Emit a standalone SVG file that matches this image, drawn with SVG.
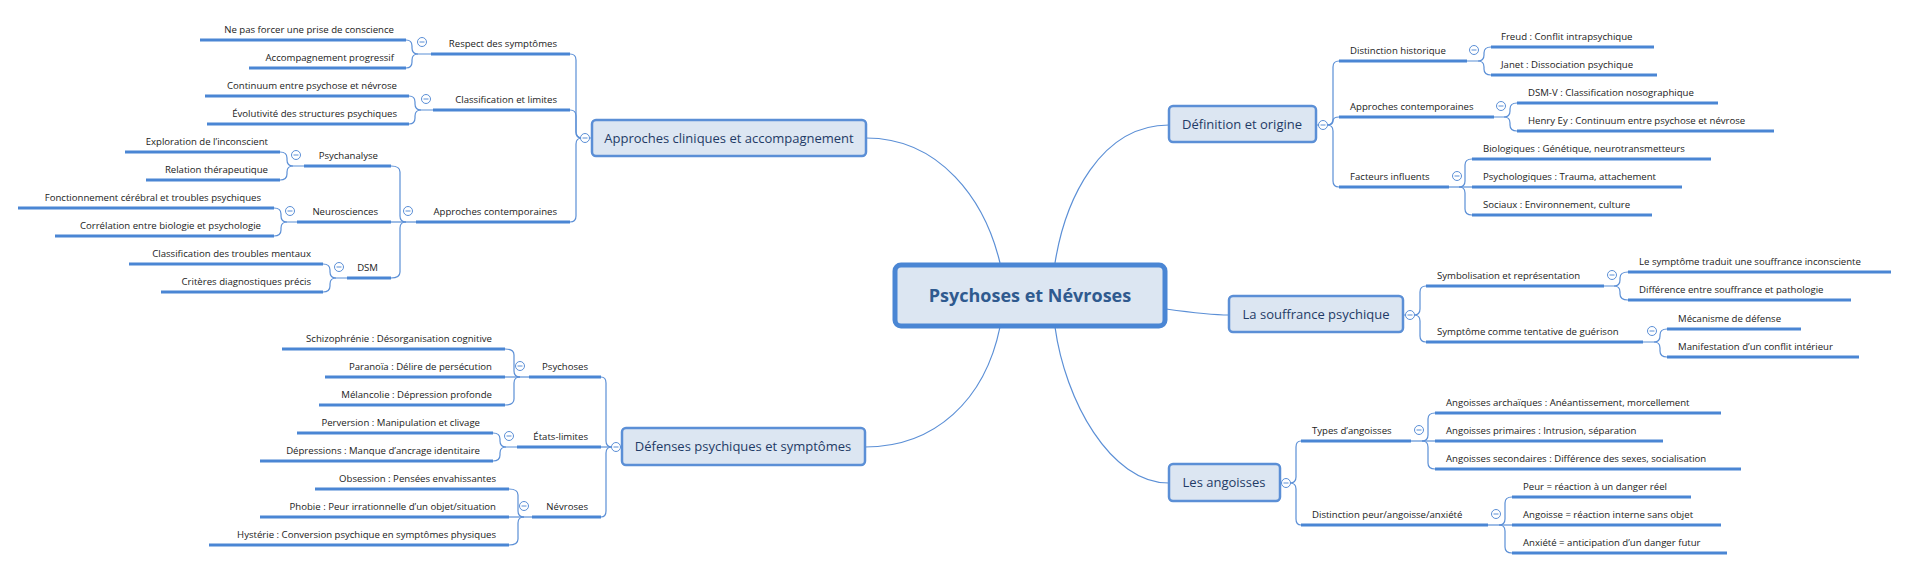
<svg xmlns="http://www.w3.org/2000/svg" width="1908" height="570" viewBox="0 0 1908 570">
<style>
text{font-family:"Open Sans","DejaVu Sans",sans-serif;fill:#222;font-size:9.6px}
.e{text-anchor:end}.m{text-anchor:middle}
.c{fill:none;stroke:#5b8fd6;stroke-width:1.2}
.u{stroke:#4a86d4;stroke-width:3}
.box{fill:#dce6f2;stroke:#5b8fd6;stroke-width:2.5}
.bt{font-size:13px;fill:#1f3b66}
.k{fill:#fff;stroke:#5b8fd6;stroke-width:1}
.km{stroke:#5b8fd6;stroke-width:1}
</style>
<defs>
<g id="col"><circle class="k" r="4.5"/><line class="km" x1="-2.5" x2="2.5"/></g>
</defs>
<g id="connectors">
<path class="c" d="M866 138 C940 138 985 200 1000 263"/>
<path class="c" d="M1169 125 C1100 125 1065 200 1055 263"/>
<path class="c" d="M1166 309 C1195 313 1210 315 1229 315"/>
<path class="c" d="M1169 483 C1110 483 1065 400 1055 327"/>
<path class="c" d="M865 447 C935 447 985 400 1000 327"/>
<path class="c" d="M592 138 H582 Q576 138 576 132 V60 Q576 54 570 54"/>
<path class="c" d="M582 138 Q576 138 576 132 V116 Q576 110 570 110"/>
<path class="c" d="M582 138 Q576 138 576 144 V216 Q576 222 570 222"/>
<path class="c" d="M431 54 H418 Q412 54 412 48 V46 Q412 40 406 40"/>
<path class="c" d="M418 54 Q412 54 412 60 V62 Q412 68 406 68"/>
<path class="c" d="M433 110 H421 Q415 110 415 104 V102 Q415 96 409 96"/>
<path class="c" d="M421 110 Q415 110 415 116 V118 Q415 124 409 124"/>
<path class="c" d="M416 222 H391"/>
<path class="c" d="M406 222 Q400 222 400 216 V172 Q400 166 391 166"/>
<path class="c" d="M406 222 Q400 222 400 228 V272 Q400 278 391 278"/>
<path class="c" d="M304 166 H293 Q287 166 287 160 V158 Q287 152 280 152"/>
<path class="c" d="M293 166 Q287 166 287 172 V174 Q287 180 280 180"/>
<path class="c" d="M297 222 H287 Q281 222 281 216 V214 Q281 208 274 208"/>
<path class="c" d="M287 222 Q281 222 281 228 V230 Q281 236 274 236"/>
<path class="c" d="M347 278 H336 Q330 278 330 272 V270 Q330 264 323 264"/>
<path class="c" d="M336 278 Q330 278 330 284 V286 Q330 292 323 292"/>
<path class="c" d="M622 447 H601"/>
<path class="c" d="M612 447 Q606 447 606 441 V383 Q606 377 601 377"/>
<path class="c" d="M612 447 Q606 447 606 453 V511 Q606 517 601 517"/>
<path class="c" d="M529 377 H505"/>
<path class="c" d="M520 377 Q514 377 514 371 V355 Q514 349 505 349"/>
<path class="c" d="M520 377 Q514 377 514 383 V399 Q514 405 505 405"/>
<path class="c" d="M517 447 H506 Q500 447 500 441 V439 Q500 433 493 433"/>
<path class="c" d="M506 447 Q500 447 500 453 V455 Q500 461 493 461"/>
<path class="c" d="M532 517 H509"/>
<path class="c" d="M524 517 Q518 517 518 511 V495 Q518 489 509 489"/>
<path class="c" d="M524 517 Q518 517 518 523 V539 Q518 545 509 545"/>
<path class="c" d="M1316 125 H1327 Q1333 125 1333 119 V67 Q1333 61 1339 61"/>
<path class="c" d="M1327 125 Q1333 125 1333 121 Q1333 117 1339 117"/>
<path class="c" d="M1327 125 Q1333 125 1333 131 V181 Q1333 187 1339 187"/>
<path class="c" d="M1467 61 H1478 Q1484 61 1484 55 V53 Q1484 47 1491 47"/>
<path class="c" d="M1478 61 Q1484 61 1484 67 V69 Q1484 75 1491 75"/>
<path class="c" d="M1494 117 H1504 Q1510 117 1510 111 V109 Q1510 103 1517 103"/>
<path class="c" d="M1504 117 Q1510 117 1510 123 V125 Q1510 131 1517 131"/>
<path class="c" d="M1449 187 H1472"/>
<path class="c" d="M1459 187 Q1465 187 1465 181 V165 Q1465 159 1472 159"/>
<path class="c" d="M1459 187 Q1465 187 1465 193 V209 Q1465 215 1472 215"/>
<path class="c" d="M1403 315 H1414 Q1420 315 1420 309 V292 Q1420 286 1426 286"/>
<path class="c" d="M1414 315 Q1420 315 1420 321 V336 Q1420 342 1426 342"/>
<path class="c" d="M1604 286 H1614 Q1620 286 1620 280 V278 Q1620 272 1628 272"/>
<path class="c" d="M1614 286 Q1620 286 1620 292 V294 Q1620 300 1628 300"/>
<path class="c" d="M1643 342 H1654 Q1660 342 1660 336 V335 Q1660 329 1667 329"/>
<path class="c" d="M1654 342 Q1660 342 1660 348 V351 Q1660 357 1667 357"/>
<path class="c" d="M1280 483 H1290 Q1296 483 1296 477 V447 Q1296 441 1301 441"/>
<path class="c" d="M1290 483 Q1296 483 1296 489 V519 Q1296 525 1301 525"/>
<path class="c" d="M1411 441 H1435"/>
<path class="c" d="M1422 441 Q1428 441 1428 435 V419 Q1428 413 1435 413"/>
<path class="c" d="M1422 441 Q1428 441 1428 447 V463 Q1428 469 1435 469"/>
<path class="c" d="M1488 525 H1512"/>
<path class="c" d="M1499 525 Q1505 525 1505 519 V503 Q1505 497 1512 497"/>
<path class="c" d="M1499 525 Q1505 525 1505 531 V547 Q1505 553 1512 553"/>
</g>
<g id="central">
<rect x="895" y="265" width="270" height="61" rx="6" fill="#dce6f2" stroke="#4a86d4" stroke-width="5"/>
<text x="1030" y="302" class="m" style="font-size:18px;font-weight:bold;fill:#2f5a8f">Psychoses et Névroses</text>
</g>
<g id="n-approches">
<rect class="box" x="592" y="120" width="274" height="36" rx="4"/>
<text class="bt m" x="729" y="143">Approches cliniques et accompagnement</text>
<use href="#col" x="585" y="138"/>
</g>
<g id="n-respect"><line class="u" x1="431" y1="54" x2="570" y2="54"/><text class="e" x="557" y="47">Respect des symptômes</text><use href="#col" x="422" y="42"/></g>
<g id="l1"><line class="u" x1="200" y1="40" x2="406" y2="40"/><text class="e" x="394" y="33">Ne pas forcer une prise de conscience</text></g>
<g id="l2"><line class="u" x1="249" y1="68" x2="406" y2="68"/><text class="e" x="394" y="61">Accompagnement progressif</text></g>
<g id="n-classif"><line class="u" x1="433" y1="110" x2="570" y2="110"/><text class="e" x="557" y="103">Classification et limites</text><use href="#col" x="426" y="99"/></g>
<g id="l3"><line class="u" x1="205" y1="96" x2="409" y2="96"/><text class="e" x="397" y="89">Continuum entre psychose et névrose</text></g>
<g id="l4"><line class="u" x1="207" y1="124" x2="409" y2="124"/><text class="e" x="397" y="117">Évolutivité des structures psychiques</text></g>
<g id="n-appcont"><line class="u" x1="416" y1="222" x2="570" y2="222"/><text class="e" x="557" y="215">Approches contemporaines</text><use href="#col" x="408" y="211"/></g>
<g id="n-psychanalyse"><line class="u" x1="304" y1="166" x2="391" y2="166"/><text class="e" x="378" y="159">Psychanalyse</text><use href="#col" x="296" y="155"/></g>
<g id="l5"><line class="u" x1="125" y1="152" x2="280" y2="152"/><text class="e" x="268" y="145">Exploration de l’inconscient</text></g>
<g id="l6"><line class="u" x1="146" y1="180" x2="280" y2="180"/><text class="e" x="268" y="173">Relation thérapeutique</text></g>
<g id="n-neuro"><line class="u" x1="297" y1="222" x2="391" y2="222"/><text class="e" x="378" y="215">Neurosciences</text><use href="#col" x="290" y="211"/></g>
<g id="l7"><line class="u" x1="18" y1="208" x2="274" y2="208"/><text class="e" x="261" y="201">Fonctionnement cérébral et troubles psychiques</text></g>
<g id="l8"><line class="u" x1="55" y1="236" x2="274" y2="236"/><text class="e" x="261" y="229">Corrélation entre biologie et psychologie</text></g>
<g id="n-dsm"><line class="u" x1="347" y1="278" x2="391" y2="278"/><text class="e" x="378" y="271">DSM</text><use href="#col" x="339" y="267"/></g>
<g id="l9"><line class="u" x1="129" y1="264" x2="323" y2="264"/><text class="e" x="311" y="257">Classification des troubles mentaux</text></g>
<g id="l10"><line class="u" x1="161" y1="292" x2="323" y2="292"/><text class="e" x="311" y="285">Critères diagnostiques précis</text></g>
<g id="n-defenses">
<rect class="box" x="622" y="428" width="243" height="37" rx="4"/>
<text class="bt m" x="743" y="451">Défenses psychiques et symptômes</text>
<use href="#col" x="616" y="447"/>
</g>
<g id="n-psychoses"><line class="u" x1="529" y1="377" x2="601" y2="377"/><text class="e" x="588" y="370">Psychoses</text><use href="#col" x="520" y="366"/></g>
<g id="l11"><line class="u" x1="282" y1="349" x2="505" y2="349"/><text class="e" x="492" y="342">Schizophrénie : Désorganisation cognitive</text></g>
<g id="l12"><line class="u" x1="325" y1="377" x2="505" y2="377"/><text class="e" x="492" y="370">Paranoïa : Délire de persécution</text></g>
<g id="l13"><line class="u" x1="319" y1="405" x2="505" y2="405"/><text class="e" x="492" y="398">Mélancolie : Dépression profonde</text></g>
<g id="n-etats"><line class="u" x1="517" y1="447" x2="601" y2="447"/><text class="e" x="588" y="440">États-limites</text><use href="#col" x="509" y="436"/></g>
<g id="l14"><line class="u" x1="297" y1="433" x2="493" y2="433"/><text class="e" x="480" y="426">Perversion : Manipulation et clivage</text></g>
<g id="l15"><line class="u" x1="260" y1="461" x2="493" y2="461"/><text class="e" x="480" y="454">Dépressions : Manque d’ancrage identitaire</text></g>
<g id="n-nevroses"><line class="u" x1="532" y1="517" x2="601" y2="517"/><text class="e" x="588" y="510">Névroses</text><use href="#col" x="524" y="506"/></g>
<g id="l16"><line class="u" x1="315" y1="489" x2="509" y2="489"/><text class="e" x="496" y="482">Obsession : Pensées envahissantes</text></g>
<g id="l17"><line class="u" x1="260" y1="517" x2="509" y2="517"/><text class="e" x="496" y="510">Phobie : Peur irrationnelle d’un objet/situation</text></g>
<g id="l18"><line class="u" x1="209" y1="545" x2="509" y2="545"/><text class="e" x="496" y="538">Hystérie : Conversion psychique en symptômes physiques</text></g>
<g id="n-definition">
<rect class="box" x="1169" y="106" width="147" height="36" rx="4"/>
<text class="bt m" x="1242" y="129">Définition et origine</text>
<use href="#col" x="1323" y="125"/>
</g>
<g id="n-disthist"><line class="u" x1="1339" y1="61" x2="1467" y2="61"/><text x="1350" y="54">Distinction historique</text><use href="#col" x="1474" y="50"/></g>
<g id="r1"><line class="u" x1="1491" y1="47" x2="1654" y2="47"/><text x="1501" y="40">Freud : Conflit intrapsychique</text></g>
<g id="r2"><line class="u" x1="1491" y1="75" x2="1657" y2="75"/><text x="1501" y="68">Janet : Dissociation psychique</text></g>
<g id="n-appcont2"><line class="u" x1="1339" y1="117" x2="1494" y2="117"/><text x="1350" y="110">Approches contemporaines</text><use href="#col" x="1501" y="106"/></g>
<g id="r3"><line class="u" x1="1517" y1="103" x2="1718" y2="103"/><text x="1528" y="96">DSM-V : Classification nosographique</text></g>
<g id="r4"><line class="u" x1="1517" y1="131" x2="1774" y2="131"/><text x="1528" y="124">Henry Ey : Continuum entre psychose et névrose</text></g>
<g id="n-facteurs"><line class="u" x1="1339" y1="187" x2="1449" y2="187"/><text x="1350" y="180">Facteurs influents</text><use href="#col" x="1457" y="176"/></g>
<g id="r5"><line class="u" x1="1472" y1="159" x2="1711" y2="159"/><text x="1483" y="152">Biologiques : Génétique, neurotransmetteurs</text></g>
<g id="r6"><line class="u" x1="1472" y1="187" x2="1682" y2="187"/><text x="1483" y="180">Psychologiques : Trauma, attachement</text></g>
<g id="r7"><line class="u" x1="1472" y1="215" x2="1652" y2="215"/><text x="1483" y="208">Sociaux : Environnement, culture</text></g>
<g id="n-souffrance">
<rect class="box" x="1229" y="296" width="174" height="36" rx="4"/>
<text class="bt m" x="1316" y="319">La souffrance psychique</text>
<use href="#col" x="1410" y="315"/>
</g>
<g id="n-symb"><line class="u" x1="1426" y1="286" x2="1604" y2="286"/><text x="1437" y="279">Symbolisation et représentation</text><use href="#col" x="1612" y="275"/></g>
<g id="r8"><line class="u" x1="1628" y1="272" x2="1891" y2="272"/><text x="1639" y="265">Le symptôme traduit une souffrance inconsciente</text></g>
<g id="r9"><line class="u" x1="1628" y1="300" x2="1851" y2="300"/><text x="1639" y="293">Différence entre souffrance et pathologie</text></g>
<g id="n-sympt"><line class="u" x1="1426" y1="342" x2="1643" y2="342"/><text x="1437" y="335">Symptôme comme tentative de guérison</text><use href="#col" x="1652" y="331"/></g>
<g id="r10"><line class="u" x1="1667" y1="329" x2="1801" y2="329"/><text x="1678" y="322">Mécanisme de défense</text></g>
<g id="r11"><line class="u" x1="1667" y1="357" x2="1859" y2="357"/><text x="1678" y="350">Manifestation d’un conflit intérieur</text></g>
<g id="n-angoisses">
<rect class="box" x="1169" y="464" width="111" height="37" rx="4"/>
<text class="bt m" x="1224" y="487">Les angoisses</text>
<use href="#col" x="1286" y="483"/>
</g>
<g id="n-types"><line class="u" x1="1301" y1="441" x2="1411" y2="441"/><text x="1312" y="434">Types d’angoisses</text><use href="#col" x="1419" y="430"/></g>
<g id="r12"><line class="u" x1="1435" y1="413" x2="1721" y2="413"/><text x="1446" y="406">Angoisses archaïques : Anéantissement, morcellement</text></g>
<g id="r13"><line class="u" x1="1435" y1="441" x2="1663" y2="441"/><text x="1446" y="434">Angoisses primaires : Intrusion, séparation</text></g>
<g id="r14"><line class="u" x1="1435" y1="469" x2="1741" y2="469"/><text x="1446" y="462">Angoisses secondaires : Différence des sexes, socialisation</text></g>
<g id="n-dist"><line class="u" x1="1301" y1="525" x2="1488" y2="525"/><text x="1312" y="518">Distinction peur/angoisse/anxiété</text><use href="#col" x="1496" y="514"/></g>
<g id="r15"><line class="u" x1="1512" y1="497" x2="1691" y2="497"/><text x="1523" y="490">Peur = réaction à un danger réel</text></g>
<g id="r16"><line class="u" x1="1512" y1="525" x2="1721" y2="525"/><text x="1523" y="518">Angoisse = réaction interne sans objet</text></g>
<g id="r17"><line class="u" x1="1512" y1="553" x2="1727" y2="553"/><text x="1523" y="546">Anxiété = anticipation d’un danger futur</text></g>
</svg>
